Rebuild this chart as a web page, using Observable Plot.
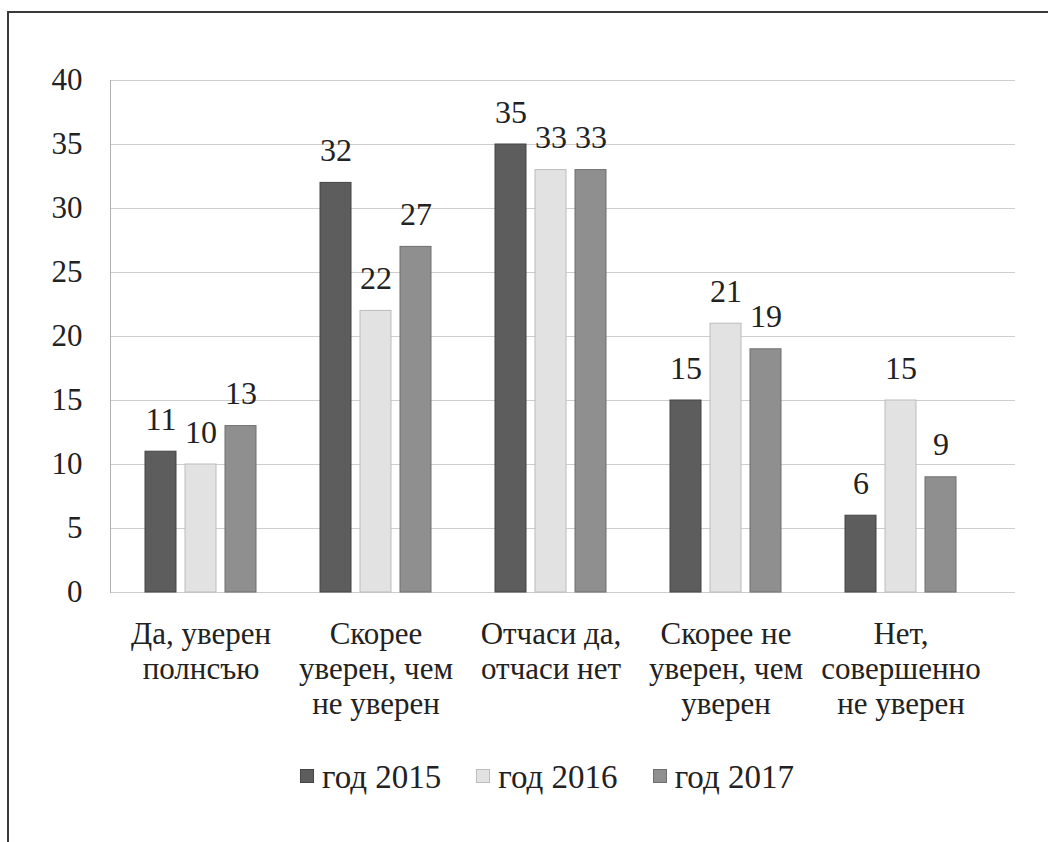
<!DOCTYPE html>
<html>
<head>
<meta charset="utf-8">
<script src="https://cdn.jsdelivr.net/npm/d3@7"></script>
<script src="https://cdn.jsdelivr.net/npm/@observablehq/plot@0.6"></script>
<style>
  html, body { margin: 0; padding: 0; background: #fff; }
  body { width: 1048px; height: 842px; position: relative; overflow: hidden; font-family: "Liberation Serif", serif; color: #222; }
  #frame { position: absolute; left: 7px; top: 11px; width: 1041px; height: 831px; border-top: 2px solid #3a3a3a; border-left: 2px solid #3a3a3a; box-sizing: border-box; }
  #chart { position: absolute; left: 0; top: 0; }
  #legend { position: absolute; left: 300px; top: 761px; display: flex; gap: 35px; font-size: 33px; line-height: 33px; }
  .item { display: flex; align-items: center; }
  .sw { width: 14px; height: 14px; margin-right: 8px; margin-top: -3px; box-sizing: border-box; border: 1px solid; }
</style>
</head>
<body>
<div id="frame"></div>
<div id="chart"></div>
<div id="legend"></div>
<script>
// ---- data ----
const categories = ["Да, уверен полнсъю", "Скорее уверен, чем не уверен", "Отчаси да, отчаси нет", "Скорее не уверен, чем уверен", "Нет, совершенно не уверен"];
const categoryLabels = ["Да, уверен\nполнсъю", "Скорее\nуверен, чем\nне уверен", "Отчаси да,\nотчаси нет", "Скорее не\nуверен, чем\nуверен", "Нет,\nсовершенно\nне уверен"];
const seriesNames = ["год 2015", "год 2016", "год 2017"];
const values2015 = [11, 32, 35, 15, 6];
const values2016 = [10, 22, 33, 21, 15];
const values2017 = [13, 27, 33, 19, 9];
const yTicks = [0, 5, 10, 15, 20, 25, 30, 35, 40];

// ---- styles ----
const fills = ["#5d5d5d", "#e2e2e2", "#8f8f8f"];
const strokes = ["#454545", "#bcbcbc", "#6f6f6f"];
const W = 1048, H = 740, ML = 110, MR = 33, MT = 80, MB = 148;
const xRange = [113, 988];
const band = (xRange[1] - xRange[0]) / categories.length;
const barW = 31, step = 40;
const inset = (band - barW) / 2;

const allValues = [values2015, values2016, values2017];
const series = seriesNames.map((name, k) => ({
  name,
  fill: fills[k],
  stroke: strokes[k],
  dx: (k - 1) * step,
  rows: categories.map((c, i) => ({cat: c, value: allValues[k][i]}))
}));

const chart = Plot.plot({
  width: W, height: H,
  marginLeft: ML, marginRight: MR, marginTop: MT, marginBottom: MB,
  style: {fontFamily: "Liberation Serif, serif", color: "#222", background: "transparent"},
  x: {type: "band", domain: categories, range: xRange, padding: 0, axis: null},
  y: {domain: [0, 40], axis: null},
  marks: [
    Plot.ruleY(yTicks, {stroke: "#cdcdcd", strokeWidth: 1}),
    Plot.frame({anchor: "left", stroke: "#b0b0b0"}),
    ...series.map(s => Plot.barY(s.rows, {
      x: "cat", y: "value", fill: s.fill, stroke: s.stroke, strokeWidth: 1,
      dx: s.dx, insetLeft: inset, insetRight: inset
    })),
    ...series.map(s => Plot.text(s.rows, {
      x: "cat", y: "value", text: d => String(d.value), dx: s.dx, dy: -22,
      lineAnchor: "bottom", fontSize: 32, fill: "#222"
    })),
    Plot.text(categories, {
      x: d => d, text: (d, i) => categoryLabels[i], frameAnchor: "bottom",
      lineAnchor: "top", dy: 27, lineHeight: 1.13, fontSize: 31, fill: "#222"
    }),
    Plot.axisY({ticks: yTicks, tickSize: 0, tickPadding: 28, fontSize: 31, anchor: "left", label: null})
  ]
});
document.getElementById("chart").appendChild(chart);

// ---- legend ----
const legend = document.getElementById("legend");
series.forEach(s => {
  const item = document.createElement("div");
  item.className = "item";
  const sw = document.createElement("span");
  sw.className = "sw";
  sw.style.background = s.fill;
  sw.style.borderColor = s.stroke;
  const label = document.createElement("span");
  label.textContent = s.name;
  item.appendChild(sw);
  item.appendChild(label);
  legend.appendChild(item);
});
</script>
</body>
</html>
